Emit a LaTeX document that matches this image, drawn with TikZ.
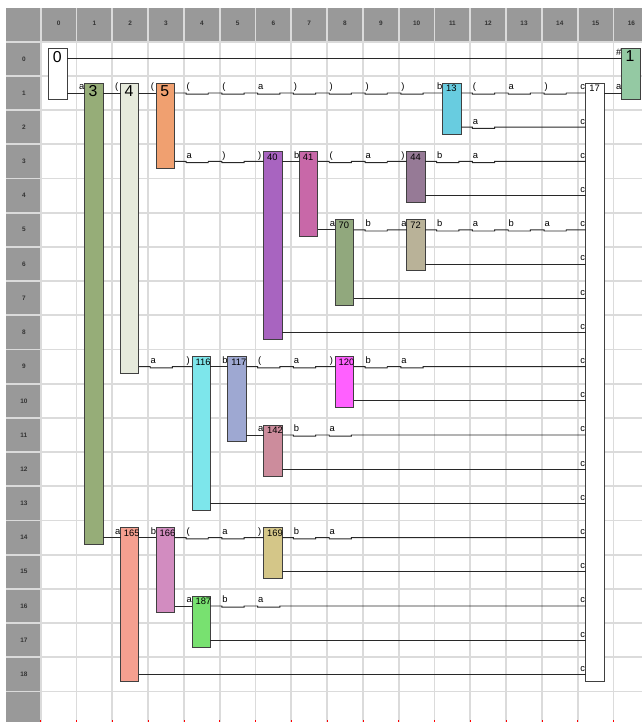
\documentclass[tikz,border=0pt]{standalone}
\usepackage{fontspec}
\setmainfont{Liberation Sans}
\definecolor{hdgray}{RGB}{153,153,153}
\definecolor{gridgray}{RGB}{219,219,219}
\definecolor{wirec}{RGB}{40,40,40}
\definecolor{st0}{RGB}{255,255,255}
\definecolor{st1}{RGB}{148,201,163}
\definecolor{st3}{RGB}{150,173,120}
\definecolor{st4}{RGB}{230,234,220}
\definecolor{st5}{RGB}{240,160,112}
\definecolor{st13}{RGB}{104,204,224}
\definecolor{st17}{RGB}{255,255,255}
\definecolor{st40}{RGB}{168,100,192}
\definecolor{st41}{RGB}{200,104,168}
\definecolor{st44}{RGB}{150,122,150}
\definecolor{st70}{RGB}{145,168,125}
\definecolor{st72}{RGB}{185,178,152}
\definecolor{st116}{RGB}{125,230,235}
\definecolor{st117}{RGB}{158,168,210}
\definecolor{st120}{RGB}{255,96,255}
\definecolor{st142}{RGB}{204,140,156}
\definecolor{st165}{RGB}{245,160,144}
\definecolor{st166}{RGB}{210,140,192}
\definecolor{st169}{RGB}{212,198,136}
\definecolor{st187}{RGB}{120,225,112}
\newcommand{\edgeline}[4]{\draw[wireline] (#2.east |- y#1) -- (#3.west |- y#1) node[edgelab,xshift=-.18cm] (e#1-#3) {#4};}
\newcommand{\edgewave}[5]{\draw[wireline] (#2.east |- y#1) foreach \cl/\tx in {#5} {-- (\cl+.06,#1+.5) node[edgelab] (t#1-\cl) {\tx} -- ++(0,.035) -- (\cl+.68,#1+.535) -- ++(0,-.035)} -- (#3.west |- y#1) node[edgelab,xshift=-.18cm] (e#1-#3) {#4};}

\begin{document}
\begin{tikzpicture}[x=1.074cm,y=-1.026cm,line width=.8pt,
  gridline/.style={gridgray,line width=1.4pt},
  headnum/.style={inner sep=0,text=black!80,font=\fontsize{5.5}{6}\selectfont\bfseries},
  statebox/.style={draw=black!75,anchor=north west,inner sep=0,outer sep=0,minimum width=.548cm},
  bignum/.style={anchor=north west,inner sep=0,xshift=3pt,yshift=-1.5pt,font=\fontsize{13.5}{14}\selectfont},
  smallnum/.style={anchor=north west,inner sep=0,xshift=2.5pt,yshift=-1.5pt,font=\fontsize{8}{9}\selectfont},
  wireline/.style={draw=wirec},
  edgelab/.style={anchor=base west,inner sep=0,yshift=2.6pt,font=\fontsize{8}{8}\selectfont}]
  \useasboundingbox (-1.137,-1.219) rectangle (16.796,19.892);
  \clip (-1.137,-1.219) rectangle (16.796,19.892);
  \fill[hdgray] (-.969,-.985) rectangle (16.796,0);
  \fill[hdgray] (-.969,0) rectangle (0,19.892);
  \foreach \cl in {0,...,16} \draw[gridline] (\cl,-.985) -- (\cl,19.892);
  \foreach \rw in {0,...,19} \draw[gridline] (-.969,\rw) -- (16.796,\rw);
  \foreach \cl in {0,...,16} \node[headnum] (h\cl) at (\cl+.5,-.55) {\cl};
  \foreach \rw in {0,...,18} {
    \node[headnum] (v\rw) at (-.47,\rw+.5) {\rw};
    \coordinate (y\rw) at (0,\rw+.5);
  }
  \foreach \cl in {0,...,16} \draw[red,line width=.6pt] (\cl,19.84) -- (\cl,19.892);

  \foreach \n/\cl/\ra/\rb in {0/0/0/1,1/16/0/1,3/1/1/14,4/2/1/9,5/3/1/3} {
    \node[statebox,fill=st\n,minimum height={(\rb-\ra+.49)*1.026cm}] (b\n) at (\cl+.23,\ra+.21) {};
    \node[bignum] (n\n) at (b\n.north west) {\n};
  }
  \foreach \n/\cl/\ra/\rb in {13/11/1/2,17/15/1/18,40/6/3/8,41/7/3/5,44/10/3/4,70/8/5/7,72/10/5/6,116/4/9/13,117/5/9/11,120/8/9/10,142/6/11/12,165/2/14/18,166/3/14/16,169/6/14/15,187/4/16/17} {
    \node[statebox,fill=st\n,minimum height={(\rb-\ra+.49)*1.026cm}] (b\n) at (\cl+.23,\ra+.21) {};
    \node[smallnum] (n\n) at (b\n.north west) {\n};
  }

  \edgeline{0}{b0}{b1}{\#}
  \edgeline{1}{b0}{b3}{a}
  \edgeline{1}{b3}{b4}{(}
  \edgeline{1}{b4}{b5}{(}
  \edgewave{1}{b5}{b13}{b}{4/(,5/(,6/a,7/),8/),9/),10/)}
  \edgewave{1}{b13}{b17}{c}{12/(,13/a,14/)}
  \edgeline{1}{b17}{b1}{a}
  \edgewave{2}{b13}{b17}{c}{12/a}
  \edgewave{3}{b5}{b40}{)}{4/a,5/)}
  \edgeline{3}{b40}{b41}{b}
  \edgewave{3}{b41}{b44}{)}{8/(,9/a}
  \edgewave{3}{b44}{b17}{c}{11/b,12/a}
  \edgeline{4}{b44}{b17}{c}
  \edgeline{5}{b41}{b70}{a}
  \edgewave{5}{b70}{b72}{a}{9/b}
  \edgewave{5}{b72}{b17}{c}{11/b,12/a,13/b,14/a}
  \edgeline{6}{b72}{b17}{c}
  \edgeline{7}{b70}{b17}{c}
  \edgeline{8}{b40}{b17}{c}
  \edgewave{9}{b4}{b116}{)}{3/a}
  \edgeline{9}{b116}{b117}{b}
  \edgewave{9}{b117}{b120}{)}{6/(,7/a}
  \edgewave{9}{b120}{b17}{c}{9/b,10/a}
  \edgeline{10}{b120}{b17}{c}
  \edgeline{11}{b117}{b142}{a}
  \edgewave{11}{b142}{b17}{c}{7/b,8/a}
  \edgeline{12}{b142}{b17}{c}
  \edgeline{13}{b116}{b17}{c}
  \edgeline{14}{b3}{b165}{a}
  \edgeline{14}{b165}{b166}{b}
  \edgewave{14}{b166}{b169}{)}{4/(,5/a}
  \edgewave{14}{b169}{b17}{c}{7/b,8/a}
  \edgeline{15}{b169}{b17}{c}
  \edgeline{16}{b166}{b187}{a}
  \edgewave{16}{b187}{b17}{c}{5/b,6/a}
  \edgeline{17}{b187}{b17}{c}
  \edgeline{18}{b165}{b17}{c}
\end{tikzpicture}
\end{document}
